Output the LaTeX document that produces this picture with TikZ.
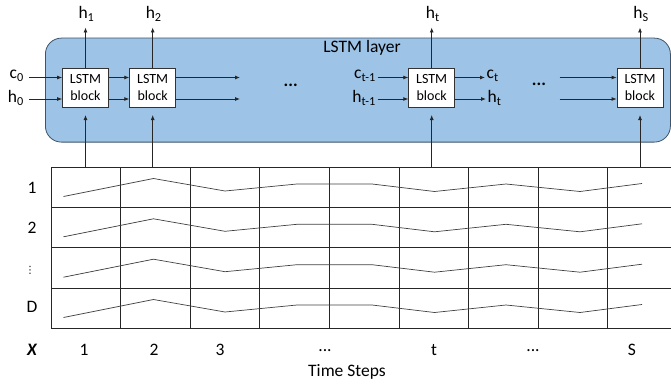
\documentclass[tikz,border=0pt]{standalone}
\usepackage{fontspec}
\setmainfont{Carlito}
\newfontfamily\dejavu{DejaVu Sans}
\usetikzlibrary{arrows.meta}
\definecolor{layerfill}{HTML}{9DC3E6}
\definecolor{layerdraw}{HTML}{3F5468}
\begin{document}
\begin{tikzpicture}[x=1pt,y=-1pt,
  arr/.style={-{Latex[length=5pt,width=4pt]}, line width=0.8pt, draw=black!85},
  blk/.style={draw=black!80, fill=white, line width=0.8pt, minimum width=46pt, minimum height=39pt, inner sep=0pt, align=center, font=\fontsize{14}{17}\selectfont},
  lbl/.style={font=\fontsize{17.5}{20}\selectfont, inner sep=0pt},
  gridline/.style={draw=black!85, line width=1pt},
  wave/.style={draw=black!75, line width=0.7pt}]
\useasboundingbox (0,0) rectangle (671,385);

% LSTM layer
\node[draw=layerdraw, fill=layerfill, line width=0.8pt, rounded corners=16pt, minimum width=625pt, minimum height=104pt, inner sep=0pt, anchor=north west] (layer) at (45,37.7) {};
\node[lbl] (title) at (362,48) {LSTM layer};

% blocks
\node[blk] (b1) at (85.5,88) {LSTM\\block};
\node[blk] (b2) at (152.7,88) {LSTM\\block};
\node[blk] (bt) at (431.7,87.5) {LSTM\\block};
\node[blk] (bs) at (640,87.5) {LSTM\\block};

% helper coordinates
\coordinate (yc) at (0,77.5);
\coordinate (yh) at (0,99);
\coordinate (gtop) at (0,167);
\coordinate (gin) at (0,115);
\coordinate (hout) at (0,27.5);

% inputs to block 1
\coordinate (c0s) at (29,77.5);
\coordinate (h0s) at (29,99);
\node[lbl, anchor=east] (c0) at (24,76) {c\textsubscript{0}};
\node[lbl, anchor=east] (h0) at (24,98) {h\textsubscript{0}};
\draw[arr] (c0s) -- (c0s -| b1.west);
\draw[arr] (h0s) -- (h0s -| b1.west);

% block 1 to block 2
\draw[arr] (b1.east |- yc) -- (b2.west |- yc);
\draw[arr] (b1.east |- yh) -- (b2.west |- yh);

% block 2 outputs
\coordinate (o2c) at (240,77.5);
\coordinate (o2h) at (240,99);
\draw[arr] (b2.east |- yc) -- (o2c);
\draw[arr] (b2.east |- yh) -- (o2h);
\node[lbl, font=\fontsize{17.5}{20}\selectfont\bfseries] (dots1) at (290.7,85) {...};

% block t
\coordinate (cts) at (377.5,77.5);
\coordinate (hts) at (377.5,99);
\node[lbl, anchor=east] (ctm) at (376,76) {c\textsubscript{t-1}};
\node[lbl, anchor=east] (htm) at (376,98) {h\textsubscript{t-1}};
\draw[arr] (cts) -- (cts -| bt.west);
\draw[arr] (hts) -- (hts -| bt.west);
\coordinate (otc) at (485,77.5);
\coordinate (oth) at (486,99);
\draw[arr] (bt.east |- yc) -- (otc);
\draw[arr] (bt.east |- yh) -- (oth);
\node[lbl, anchor=west] (ct) at (486.5,76) {c\textsubscript{t}};
\node[lbl, anchor=west] (ht) at (487.5,98) {h\textsubscript{t}};
\node[lbl, font=\fontsize{17.5}{20}\selectfont\bfseries] (dots2) at (539,84) {...};

% block S inputs
\coordinate (isc) at (559.5,77.5);
\coordinate (ish) at (559.5,99);
\draw[arr] (isc) -- (isc -| bs.west);
\draw[arr] (ish) -- (ish -| bs.west);

% outputs up
\foreach \b/\t in {b1/1, b2/2, bt/t, bs/S}{
  \draw[arr] (\b.north) -- (\b.north |- hout);
  \node[lbl] (out\b) at ([xshift=1pt]\b.north |- 0,14) {h\textsubscript{\t}};
  \draw[arr] (\b.south |- gtop) -- (\b.south |- gin);
}

% grid
\foreach \x in {51,120.6,190.2,259.8,329.4,399,468.6,538.2,607.8}{
  \draw[gridline] (\x,167) -- (\x,328.3);
}
\foreach \y in {167,207.3,247.7,288,328.3}{
  \draw[gridline] (51,\y) -- (671,\y);
}
% waveforms
\foreach \r in {167,207.3,247.7,288}{
  \draw[wave] (63.5,\r+29.5) -- (153.5,\r+11.5) -- (225,\r+24) -- (297,\r+17) -- (372,\r+17)
    -- (434.5,\r+24.5) -- (506,\r+17) -- (580,\r+24.5) -- (642,\r+16.5);
}

% row labels
\node[lbl] (r1) at (32,188) {1};
\node[lbl] (r2) at (32,228) {2};
\node[inner sep=0pt, font=\dejavu\fontsize{10}{11}\selectfont] (r3) at (30,270) {⋮};
\node[lbl] (r4) at (32,307) {D};

% column labels
\node[lbl, font=\fontsize{17.5}{20}\selectfont\bfseries\itshape] (xl) at (32,350) {X};
\node[lbl] (t1) at (84,350) {1};
\node[lbl] (t2) at (154,350) {2};
\node[lbl] (t3) at (220,350) {3};
\node[lbl] (t4) at (325,351) {...};
\node[lbl] (t5) at (434,350) {t};
\node[lbl] (t6) at (533,351) {...};
\node[lbl] (t7) at (632,350) {S};
\node[lbl] (ts) at (347,371.5) {Time Steps};
\end{tikzpicture}
\end{document}
